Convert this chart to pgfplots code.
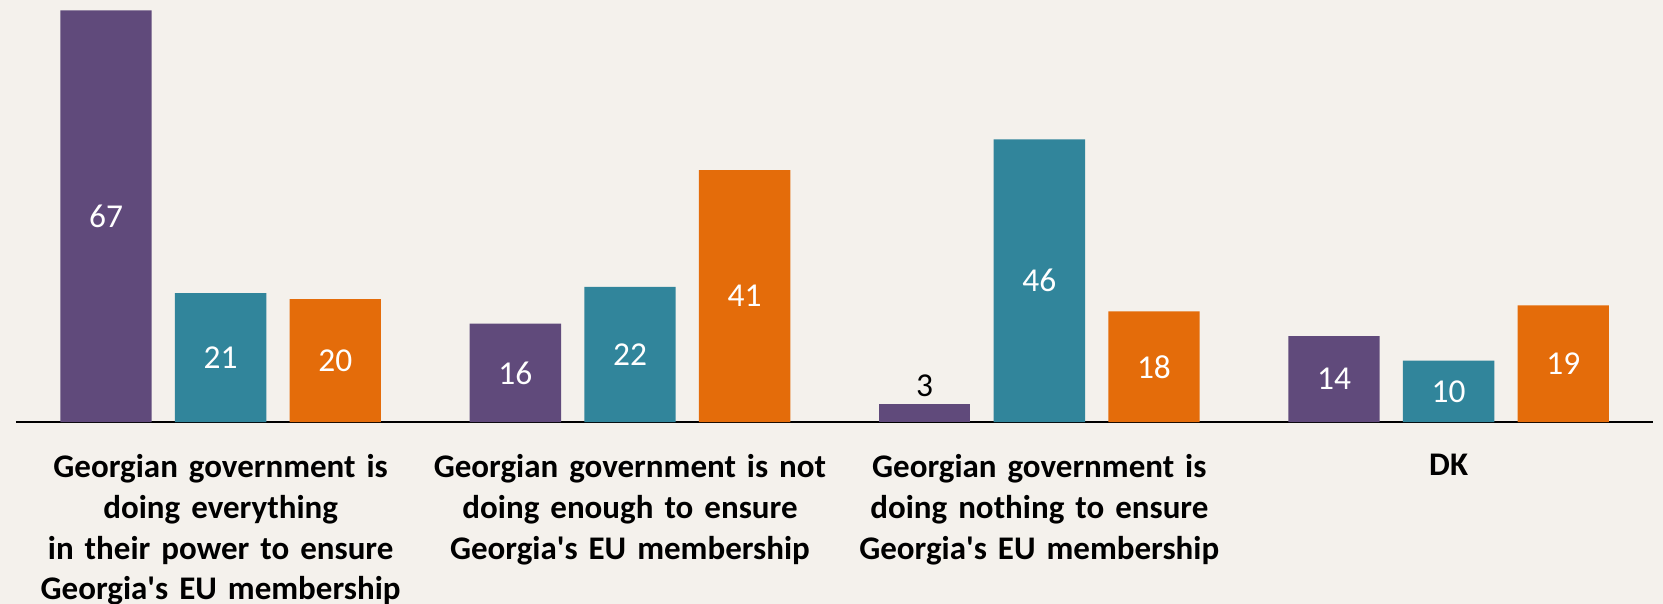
\documentclass[border=0pt]{standalone}
\usepackage{pgfplots}
\pgfplotsset{compat=1.18}
\usepackage{fontspec}
\setmainfont{Carlito}
\definecolor{bg}{RGB}{244,241,236}
\definecolor{cpurple}{RGB}{96,74,123}
\definecolor{cteal}{RGB}{49,133,155}
\definecolor{corange}{RGB}{228,108,10}
\pgfplotsset{
  midlabel/.style={nodes near coords,
    nodes near coords style={anchor=center, text=white, font=\fontsize{16.7}{20.4}\selectfont,
      shift={(axis direction cs:#1,-\rawy/2)}}},
  toplabel/.style={nodes near coords,
    nodes near coords style={anchor=south, text=black, font=\fontsize{16.7}{20.4}\selectfont,
      shift={(axis direction cs:#1,0)}}},
}
\begin{document}
\begin{tikzpicture}
\fill[bg] (-8pt,-91pt) rectangle (823.5pt,211pt);
\begin{axis}[
  at={(0pt,0pt)}, anchor=south west,
  scale only axis, width=818.65pt, height=211pt,
  xmin=-0.5, xmax=3.5, ymin=0, ymax=68.7,
  axis x line=bottom, axis y line=none,
  x axis line style={-, line width=1.1pt, black},
  xtick={0,1,2,3},
  xticklabels={{Georgian government is\\doing everything\\in their power to ensure\\Georgia\textquotesingle s EU membership},
    {Georgian government is not\\doing enough to ensure\\Georgia\textquotesingle s EU membership},
    {Georgian government is\\doing nothing to ensure\\Georgia\textquotesingle s EU membership},
    {DK}},
  major tick length=0pt,
  xticklabel style={font=\fontsize{16.5}{20.4}\selectfont\bfseries, text width=205pt, align=center, anchor=north, inner sep=0pt, yshift=-16pt},
  /pgf/number format/assume math mode=true,
  visualization depends on={y \as \rawy},
  clip=false,
]
\addplot[ybar, bar width=0.2232, bar shift=-0.28, fill=cpurple, draw=none, midlabel=-0.28]
  coordinates {(0,67) (1,16) (3,14)};
\addplot[ybar, bar width=0.2232, bar shift=-0.28, fill=cpurple, draw=none, toplabel=-0.28]
  coordinates {(2,3)};
\addplot[ybar, bar width=0.2232, bar shift=0, fill=cteal, draw=none, midlabel=0]
  coordinates {(0,21) (1,22) (2,46) (3,10)};
\addplot[ybar, bar width=0.2232, bar shift=0.28, fill=corange, draw=none, midlabel=0.28]
  coordinates {(0,20) (1,41) (2,18) (3,19)};
\end{axis}
\pgfresetboundingbox
\useasboundingbox (-8pt,-91pt) rectangle (823.5pt,211pt);
\end{tikzpicture}
\end{document}
